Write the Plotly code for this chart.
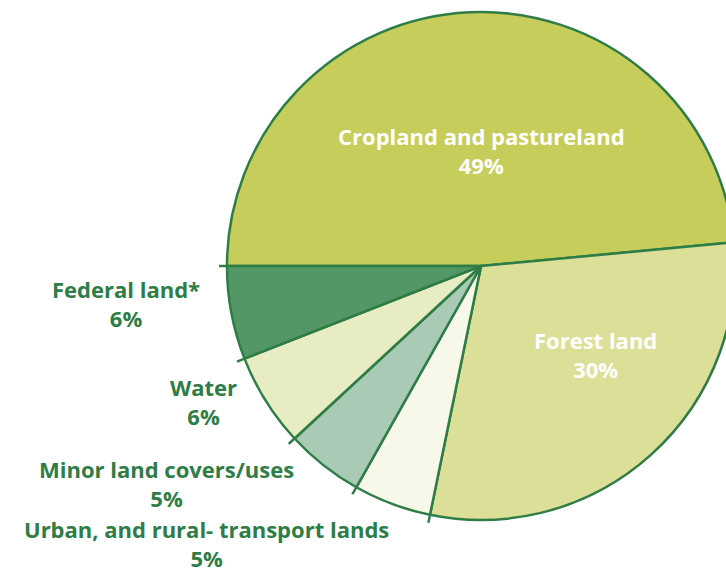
import numpy as np
import plotly.graph_objects as go

# Major land uses, share of total land area (percent)
categories = [
    "Cropland and pastureland",
    "Forest land",
    "Urban, and rural- transport lands",
    "Minor land covers/uses",
    "Water",
    "Federal land*",
]
shares = [49, 30, 5, 5, 6, 6]
share_labels = [f"{v}%" for v in shares]

slice_colors = ["#c6cd5a", "#dcdf98", "#f7f8e9", "#a9cab5", "#e8ecc3", "#549766"]
edge_color = "#2e7d46"
label_color = "#2e7d46"
font_family = "'Open Sans', sans-serif"

W, H = 740, 572
cx, cy, r = 481, 266, 254  # pie centre and radius in pixels

fig = go.Figure()

fig.add_trace(go.Pie(
    labels=categories,
    values=shares,
    sort=False,
    direction="clockwise",
    rotation=-90,
    textinfo="none",
    hoverinfo="label+value",
    marker=dict(colors=slice_colors, line=dict(color=edge_color, width=2.5)),
    domain=dict(x=[(cx - r) / W, (cx + r) / W],
                y=[(H - cy - r) / H, (H - cy + r) / H]),
    showlegend=False,
))

# Short ticks continuing each slice boundary past the rim
total = sum(shares)
cum = np.concatenate([[0], np.cumsum(shares)[:-1]])
for c in cum:
    theta = np.deg2rad(180 - 360 * c / total)
    x0, y0 = cx + r * np.cos(theta), cy - r * np.sin(theta)
    x1, y1 = cx + (r + 8) * np.cos(theta), cy - (r + 8) * np.sin(theta)
    fig.add_shape(type="line", x0=x0, y0=y0, x1=x1, y1=y1, xref="x", yref="y",
                  line=dict(color=edge_color, width=2.5))

# Label placement (centre x, centre y of the two-line block) in pixels
label_pos = [
    (481, 150, "white"),
    (595, 354, "white"),
    (206, 543, label_color),
    (166, 483, label_color),
    (203, 401, label_color),
    (126, 303, label_color),
]
for name, pct, (lx, ly, col) in zip(categories, share_labels, label_pos):
    fig.add_annotation(x=lx, y=ly, xref="x", yref="y",
                       text=f"<b>{name}<br>{pct}</b>",
                       showarrow=False, xanchor="center", yanchor="middle",
                       align="center", borderpad=0,
                       font=dict(family=font_family, size=22, color=col))

fig.update_xaxes(range=[0, W], visible=False, fixedrange=True)
fig.update_yaxes(range=[H, 0], visible=False, fixedrange=True)
fig.update_layout(
    width=W, height=H,
    margin=dict(l=0, r=0, t=0, b=0),
    paper_bgcolor="white", plot_bgcolor="white",
)

fig.write_html("out.html", post_script="document.body.style.overflow='hidden';")
